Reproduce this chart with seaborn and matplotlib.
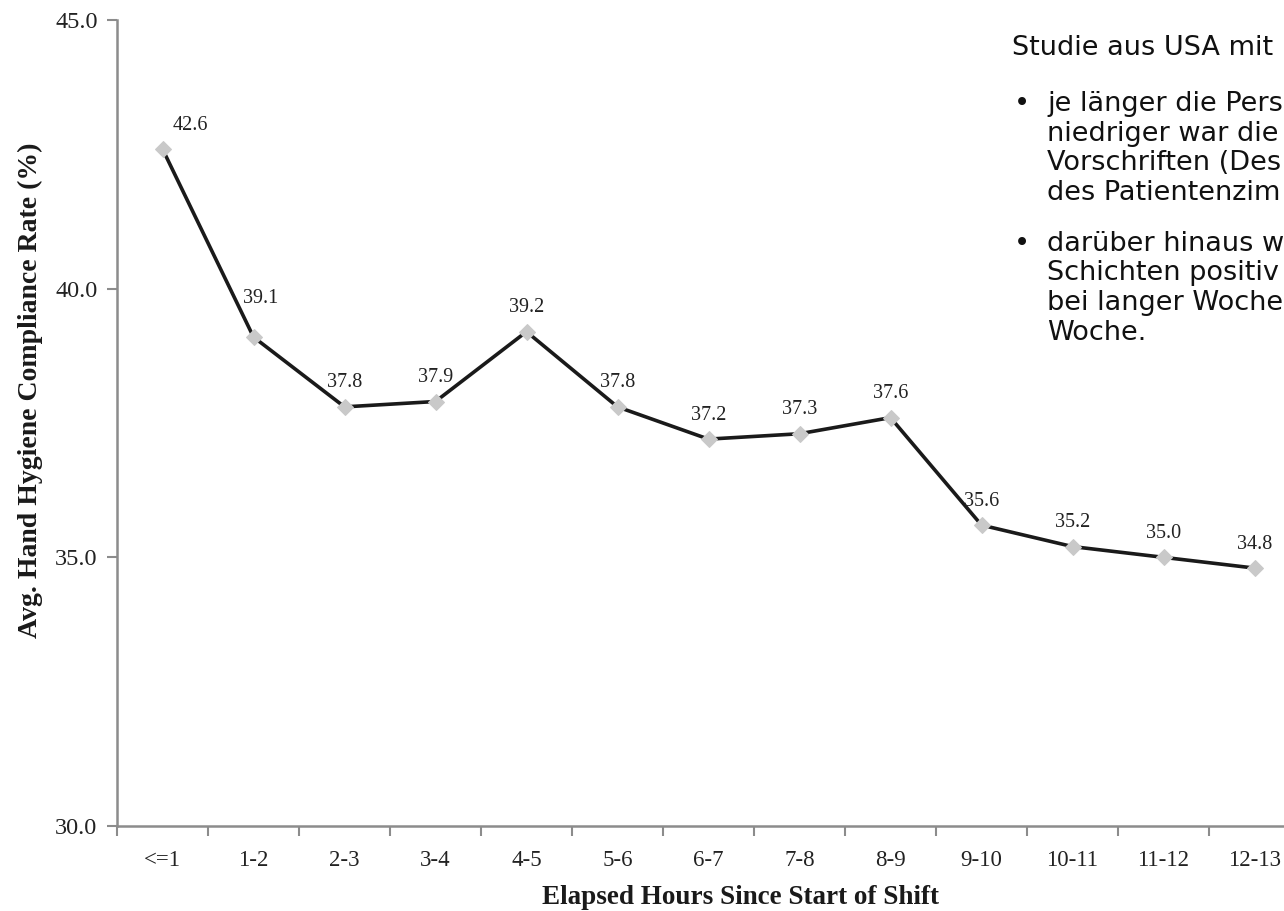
import numpy as np
import matplotlib
matplotlib.use("Agg")
import matplotlib.pyplot as plt
import seaborn as sns

# data
hours = ["<=1", "1-2", "2-3", "3-4", "4-5", "5-6", "6-7",
         "7-8", "8-9", "9-10", "10-11", "11-12", "12-13"]
compliance = [42.6, 39.1, 37.8, 37.9, 39.2, 37.8, 37.2,
              37.3, 37.6, 35.6, 35.2, 35.0, 34.8]
y_ticks = [30.0, 35.0, 40.0, 45.0]

x_label = "Elapsed Hours Since Start of Shift"
y_label = "Avg. Hand Hygiene Compliance Rate (%)"

note_head = "Studie aus USA mit"
note_bullets = [
    ["je länger die Pers", "niedriger war die", "Vorschriften (Des", "des Patientenzim"],
    ["darüber hinaus w", "Schichten positiv", "bei langer Woche", "Woche."],
]

sns.set_style("white")
serif = ["Liberation Serif", "DejaVu Serif"]
axis_gray = "#8c8c8c"

fig = plt.figure(figsize=(12.84, 9.11), dpi=100)
# axes runs past the right edge like the cropped original
ax = fig.add_axes([117 / 1284, 1 - 826 / 911, 1183 / 1284, 806 / 911])

xs = np.arange(len(hours))
sns.lineplot(x=xs, y=compliance, ax=ax, sort=False, color="#1a1a1a",
             linewidth=2.6, marker="D", markersize=8.5,
             markerfacecolor="#c9c9c9", markeredgecolor="#c9c9c9")

# value labels (pixel offsets, converted to points)
offsets = {0: (28, 23), 1: (7, 39)}
for i, v in enumerate(compliance):
    dx, dy = offsets.get(i, (0, 24))
    ax.annotate(f"{v:.1f}", (xs[i], v), xytext=(dx * 0.72, dy * 0.72),
                textcoords="offset points", ha="center", va="center",
                fontsize=14.5, family=serif, color="#222222")

ax.set_xlim(-0.5, len(hours) - 0.5)
ax.set_ylim(30, 45)
ax.set_yticks(y_ticks)
ax.set_yticklabels([f"{t:.1f}" for t in y_ticks], family=serif, fontsize=17.5,
                   color="#222222")

# ticks between categories, labels at the centres
ax.set_xticks(np.arange(len(hours) + 1) - 0.5)
ax.set_xticklabels([])
ax.set_xticks(xs, minor=True)
ax.set_xticklabels(hours, minor=True, family=serif, fontsize=16.5, color="#222222")
ax.tick_params(axis="x", which="major", direction="out", length=7, width=1.5,
               color=axis_gray, bottom=True)
ax.tick_params(axis="x", which="minor", length=0, pad=17, bottom=True)
ax.tick_params(axis="y", direction="out", length=7, width=1.5, color=axis_gray,
               left=True, pad=7)

for s in ["top", "right"]:
    ax.spines[s].set_visible(False)
for s in ["left", "bottom"]:
    ax.spines[s].set_color(axis_gray)
    ax.spines[s].set_linewidth(1.8)

fig.text(741 / 1284, 1 - 897 / 911, x_label, ha="center", va="center",
         family=serif, fontweight="bold", fontsize=19.5, color="#1a1a1a")
fig.text(30 / 1284, 1 - 390 / 911, y_label, ha="center", va="center",
         rotation=90, family=serif, fontweight="bold", fontsize=20,
         color="#1a1a1a")

# side note
note_kw = dict(family=["DejaVu Sans"], fontsize=19.5, color="#111111", va="center")
fig.text(1012 / 1284, 1 - 48 / 911, note_head, **note_kw)
y = 104
for lines in note_bullets:
    fig.text(1014 / 1284, 1 - y / 911, "•", **note_kw)
    for ln in lines:
        fig.text(1047 / 1284, 1 - y / 911, ln, **note_kw)
        y += 29.7
    y += 21

fig.savefig("out.png", dpi=100)
